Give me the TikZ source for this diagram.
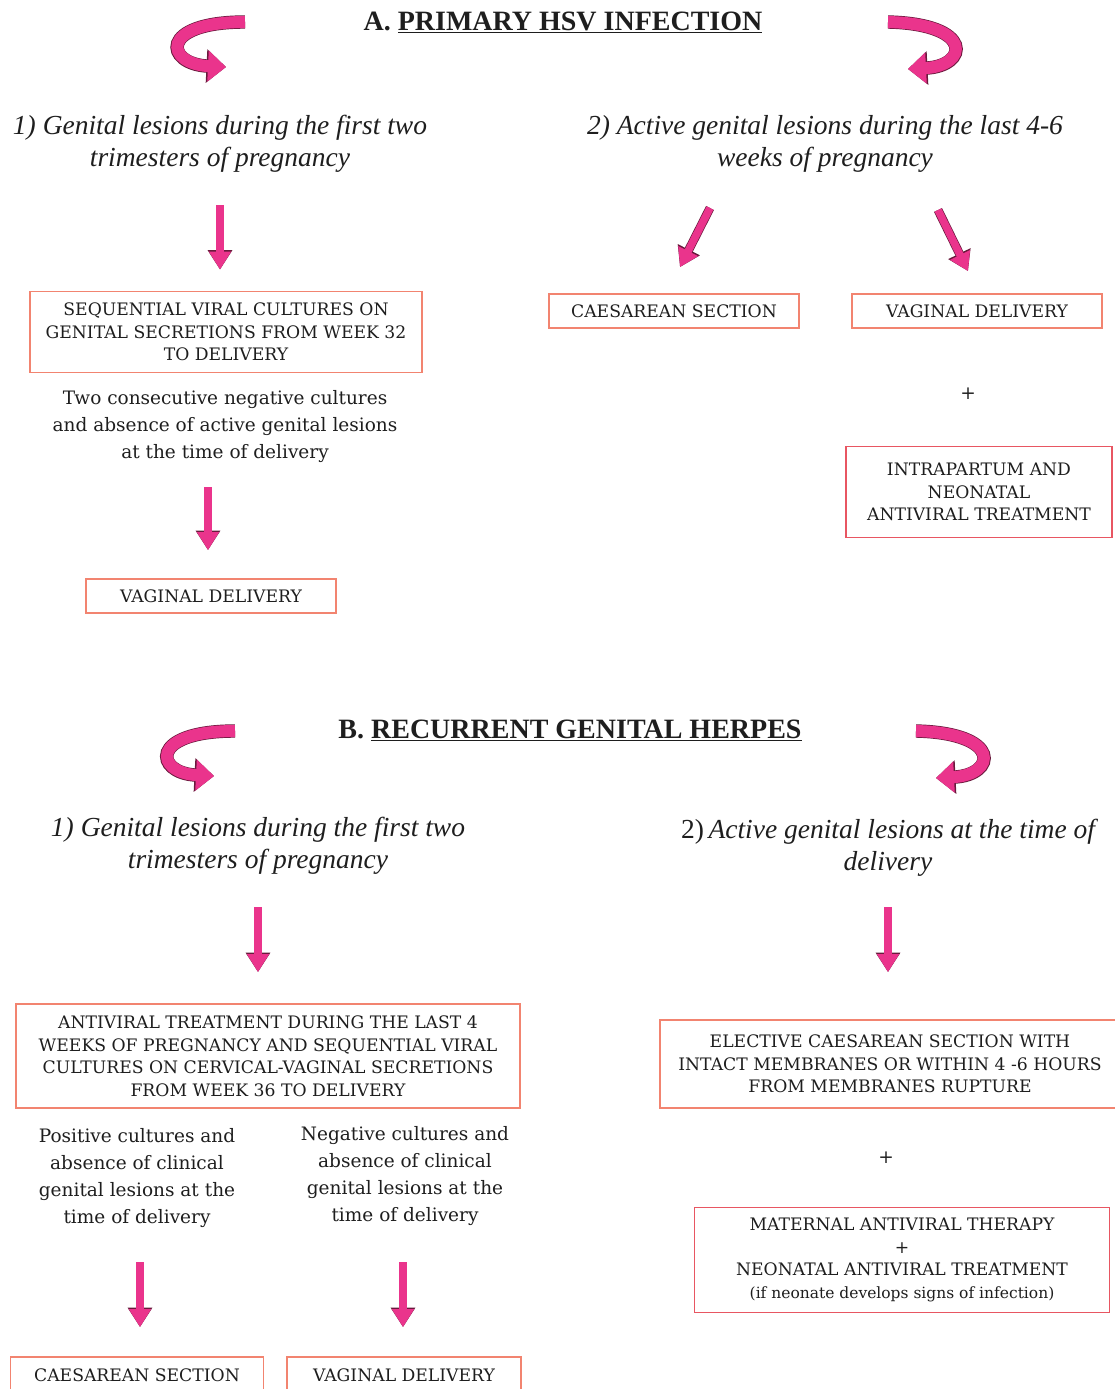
\documentclass[tikz,border=0pt]{standalone}
\usepackage{fontspec}
\setmainfont{Liberation Serif}
\newfontfamily\slab{DejaVu Serif}
\usetikzlibrary{arrows.meta, calc}
\definecolor{pinkfill}{RGB}{234,52,140}
\definecolor{pinkedge}{RGB}{105,25,60}
\definecolor{boxorange}{RGB}{242,132,112}
\definecolor{boxred}{RGB}{232,86,98}
\definecolor{inkgray}{RGB}{30,30,30}

\begin{document}
\begin{tikzpicture}[x=1pt, y=-1pt,
  every node/.style={text=inkgray},
  title/.style={font=\fontsize{28}{32}\selectfont\bfseries},
  heading/.style={align=center, font=\fontsize{27.5}{32}\selectfont\itshape},
  stepbox/.style={draw=boxorange, line width=1.8pt, fill=white, align=center, inner sep=0pt, font=\slab\fontsize{17.2}{22.5}\selectfont},
  note/.style={align=center, font=\slab\fontsize{18.5}{27}\selectfont},
  pinkarrow/.style={draw=pinkfill, line width=7.5pt, -{Triangle[length=18pt, width=21pt]},
    preaction={draw=pinkedge, line width=8.9pt, -{Triangle[length=19.5pt, width=23.5pt]}}},
  swirl/.style={draw=pinkfill, line width=12pt, -{Triangle[length=18pt, width=30pt]},
    preaction={draw=pinkedge, line width=13.4pt, -{Triangle[length=19.5pt, width=32.5pt]}}}]
  \useasboundingbox (0,0) rectangle (1115,1389);

  \node[title] (titleA) at (563,22) {A. \underline{PRIMARY HSV INFECTION}};
  \draw[swirl] (245,22) .. controls (158,22) and (165,64) .. (226,67);
  \draw[swirl] (888,22) .. controls (975,24) and (968,66) .. (908,69);

  \node[heading] (headA1) at (220,144) {1) Genital lesions during the first two\\trimesters of pregnancy};
  \node[heading] (headA2) at (825,144) {2) Active genital lesions during the last 4-6\\weeks of pregnancy};

  \node[stepbox, minimum width=392pt, minimum height=81pt] (seqA) at (226,332) {SEQUENTIAL VIRAL CULTURES ON\\GENITAL SECRETIONS FROM WEEK 32\\TO DELIVERY};
  \node[note] (negA) at (225,427) {Two consecutive negative cultures\\and absence of active genital lesions\\at the time of delivery};
  \node[stepbox, minimum width=250pt, minimum height=34pt] (vagA1) at (211,596) {VAGINAL DELIVERY};
  \node[stepbox, minimum width=250pt, minimum height=34pt] (caesA) at (674,311) {CAESAREAN SECTION};
  \node[stepbox, minimum width=250pt, minimum height=34pt] (vagA2) at (977,311) {VAGINAL DELIVERY};
  \node[note] (plusA) at (968,394) {+};
  \node[stepbox, draw=boxred, minimum width=266pt, minimum height=91pt] (intraA) at (979,492) {INTRAPARTUM AND\\NEONATAL\\ANTIVIRAL TREATMENT};

  \draw[pinkarrow] ($(headA1.center)+(0,61)$) -- ($(seqA.north)+(-6,-21)$);
  \draw[pinkarrow] ($(headA2.center)+(-115,64)$) -- ($(caesA.north)+(6,-26)$);
  \draw[pinkarrow] ($(headA2.center)+(113,66)$) -- ($(vagA2.north)+(-9,-22)$);
  \draw[pinkarrow] ($(negA.center)+(-17,60)$) -- ($(vagA1.north)+(-3,-28)$);

  \node[title] (titleB) at (570,730) {B. \underline{RECURRENT GENITAL HERPES}};
  \draw[swirl] (235,731) .. controls (148,731) and (155,773) .. (214,776);
  \draw[swirl] (916,731) .. controls (1003,733) and (996,775) .. (936,778);

  \node[heading] (headB1) at (258,846) {1) Genital lesions during the first two\\trimesters of pregnancy};
  \node[heading] (headB2) at (888,848) {{\upshape 2)}\,Active genital lesions at the time of\\delivery};

  \node[stepbox, minimum width=504pt, minimum height=104pt] (antivB) at (268,1056) {ANTIVIRAL TREATMENT DURING THE LAST 4\\WEEKS OF PREGNANCY AND SEQUENTIAL VIRAL\\CULTURES ON CERVICAL-VAGINAL SECRETIONS\\FROM WEEK 36 TO DELIVERY};
  \node[note] (posB) at (137,1178) {Positive cultures and\\absence of clinical\\genital lesions at the\\time of delivery};
  \node[note] (negB) at (405,1176) {Negative cultures and\\absence of clinical\\genital lesions at the\\time of delivery};
  \node[stepbox, minimum width=253pt, minimum height=36pt] (caesB) at (137,1375) {CAESAREAN SECTION};
  \node[stepbox, minimum width=234pt, minimum height=36pt] (vagB) at (404,1375) {VAGINAL DELIVERY};

  \node[stepbox, minimum width=460pt, minimum height=88pt] (electB) at (890,1064) {ELECTIVE CAESAREAN SECTION WITH\\INTACT MEMBRANES OR WITHIN 4 -6 HOURS\\FROM MEMBRANES RUPTURE};
  \node[note] (plusB) at (886,1158) {+};
  \node[stepbox, draw=boxred, minimum width=415pt, minimum height=105pt] (matB) at (902,1260) {MATERNAL ANTIVIRAL THERAPY\\+\\NEONATAL ANTIVIRAL TREATMENT\\{\fontsize{15.5}{22.5}\selectfont (if neonate develops signs of infection)}};

  \draw[pinkarrow] ($(headB1.center)+(0,61)$) -- ($(antivB.north)+(-10,-31)$);
  \draw[pinkarrow] ($(headB2.center)+(0,59)$) -- ($(electB.north)+(-2,-47)$);
  \draw[pinkarrow] ($(posB.center)+(3,84)$) -- ($(caesB.north)+(3,-29)$);
  \draw[pinkarrow] ($(negB.center)+(-2,86)$) -- ($(vagB.north)+(-1,-29)$);
\end{tikzpicture}
\end{document}
